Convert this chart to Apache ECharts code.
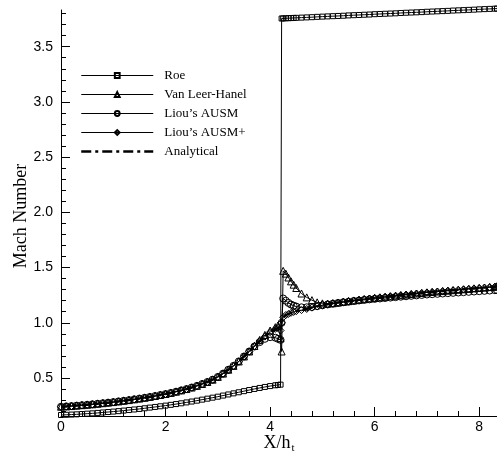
<!DOCTYPE html>
<html><head><meta charset="utf-8">
<script src="https://cdn.jsdelivr.net/npm/echarts@6/dist/echarts.min.js"></script>
<style>html,body{margin:0;padding:0;background:#fff}#c{width:497px;height:455px}</style>
</head><body><div id="c"></div>
<script>
const xs = [0,0.1,0.2,0.3,0.4,0.5,0.6,0.7,0.8,0.9,
  1.0,1.1,1.2,1.3,1.4,1.5,1.6,1.7,1.8,1.9,
  2.0,2.1,2.2,2.3,2.4,2.5,2.6,2.7,2.8,2.9,
  3.0,3.1,3.2,3.3,3.4,3.5,3.6,3.7,3.8,3.9,
  4.0,4.1,
  4.15,4.2,4.22,4.25,4.3,4.35,4.4,4.45,4.5,4.6,4.7,4.8,4.9,
  5.0,5.1,5.2,5.3,5.4,5.5,5.6,5.7,5.8,5.9,
  6.0,6.1,6.2,6.3,6.4,6.5,6.6,6.7,6.8,6.9,
  7.0,7.1,7.2,7.3,7.4,7.5,7.6,7.7,7.8,7.9,
  8.0,8.1,8.2,8.3,
  8.34];

const roe = [0.165,0.167,0.169,0.171,0.174,0.177,0.180,0.184,0.188,0.192,
  0.196,0.200,0.205,0.210,0.215,0.220,0.226,0.232,0.238,0.244,
  0.250,0.257,0.264,0.271,0.279,0.287,0.295,0.304,0.313,0.322,
  0.331,0.341,0.351,0.361,0.371,0.381,0.391,0.401,0.410,0.419,
  0.427,0.434,
  0.437,0.440,3.755,3.756,3.757,3.758,3.759,3.760,3.761,3.763,3.765,3.767,3.770,
  3.772,3.774,3.776,3.778,3.780,3.783,3.785,3.787,3.789,3.791,
  3.794,3.796,3.798,3.800,3.802,3.805,3.807,3.809,3.811,3.813,
  3.816,3.818,3.820,3.822,3.824,3.827,3.829,3.831,3.833,3.835,
  3.838,3.840,3.842,3.844,
  3.845];

const vanLeer = [0.240,0.243,0.246,0.250,0.254,0.258,0.262,0.267,0.272,0.277,
  0.282,0.288,0.294,0.300,0.307,0.314,0.321,0.329,0.337,0.346,
  0.355,0.365,0.376,0.388,0.400,0.414,0.429,0.446,0.464,0.485,
  0.510,0.540,0.575,0.610,0.650,0.695,0.740,0.790,0.845,0.890,
  0.930,0.960,
  0.975,0.860,0.740,1.470,1.445,1.410,1.375,1.345,1.315,1.265,1.230,1.205,1.185,
  1.176,1.174,1.177,1.183,1.190,1.196,1.202,1.208,1.214,1.220,
  1.225,1.230,1.235,1.240,1.245,1.250,1.255,1.260,1.265,1.270,
  1.275,1.279,1.283,1.287,1.291,1.295,1.299,1.303,1.307,1.311,
  1.315,1.319,1.323,1.327,
  1.330];

const ausm = [0.240,0.243,0.246,0.250,0.254,0.258,0.262,0.267,0.272,0.277,
  0.282,0.288,0.294,0.300,0.307,0.314,0.321,0.329,0.337,0.346,
  0.355,0.365,0.376,0.388,0.400,0.414,0.429,0.446,0.464,0.485,
  0.510,0.540,0.575,0.610,0.650,0.695,0.740,0.785,0.825,0.855,
  0.870,0.865,
  0.855,0.845,1.000,1.220,1.200,1.180,1.165,1.155,1.147,1.140,1.140,1.143,1.150,
  1.158,1.166,1.173,1.180,1.186,1.191,1.197,1.202,1.207,1.212,
  1.216,1.220,1.224,1.228,1.232,1.236,1.240,1.244,1.248,1.252,
  1.256,1.259,1.262,1.265,1.268,1.271,1.274,1.277,1.280,1.283,
  1.286,1.289,1.292,1.295,
  1.297];

const ausmPlus = [0.240,0.243,0.246,0.250,0.254,0.258,0.262,0.267,0.272,0.277,
  0.282,0.288,0.294,0.300,0.307,0.314,0.321,0.329,0.337,0.346,
  0.355,0.365,0.376,0.388,0.400,0.414,0.429,0.446,0.464,0.485,
  0.510,0.540,0.575,0.610,0.650,0.695,0.740,0.790,0.835,0.875,
  0.915,0.945,
  0.955,0.930,1.000,1.050,1.070,1.080,1.090,1.098,1.105,1.115,1.125,1.137,1.148,
  1.160,1.168,1.176,1.183,1.190,1.196,1.202,1.208,1.214,1.220,
  1.225,1.230,1.235,1.240,1.245,1.250,1.255,1.260,1.265,1.270,
  1.275,1.279,1.283,1.287,1.291,1.295,1.299,1.303,1.307,1.311,
  1.315,1.319,1.323,1.327,
  1.330];

const analytical = [0.240,0.243,0.246,0.250,0.254,0.258,0.262,0.267,0.272,0.277,
  0.282,0.288,0.294,0.300,0.307,0.314,0.321,0.329,0.337,0.346,
  0.355,0.365,0.376,0.388,0.400,0.414,0.429,0.446,0.464,0.485,
  0.510,0.540,0.575,0.610,0.650,0.695,0.740,0.790,0.835,0.875,
  0.910,0.940,
  0.955,0.960,1.030,1.050,1.070,1.080,1.090,1.098,1.105,1.115,1.125,1.137,1.148,
  1.160,1.168,1.176,1.183,1.190,1.196,1.202,1.208,1.214,1.220,
  1.225,1.230,1.235,1.240,1.245,1.250,1.255,1.260,1.265,1.270,
  1.275,1.279,1.283,1.287,1.291,1.295,1.299,1.303,1.307,1.311,
  1.315,1.319,1.323,1.327,
  1.330];

const seriesNames = ['Roe', 'Van Leer-Hanel', "Liou\u2019s AUSM", "Liou\u2019s AUSM+", 'Analytical'];
const xMajorTicks = [0, 2, 4, 6, 8];
const xMinorTicks = [0.4,0.8,1.2,1.6,2.4,2.8,3.2,3.6,4.4,4.8,5.2,5.6,6.4,6.8,7.2,7.6];
const yMajorTicks = [0.5, 1.0, 1.5, 2.0, 2.5, 3.0, 3.5];
const yMinorTicks = [0.2,0.3,0.4,0.6,0.7,0.8,0.9,1.1,1.2,1.3,1.4,1.6,1.7,1.8,1.9,
  2.1,2.2,2.3,2.4,2.6,2.7,2.8,2.9,3.1,3.2,3.3,3.4,3.6,3.7,3.8];

const X_MIN = 0, X_MAX = 8.34, Y_MIN = 0.156, Y_MAX = 3.832;

function pairs(ys) { return xs.map((x, i) => [x, ys[i]]); }

const chart = echarts.init(document.getElementById('c'), null, {renderer: 'canvas'});
const black = '#000';
const serif = 'Liberation Serif, Times New Roman, serif';
const labelFont = {color: black, fontFamily: 'Liberation Sans, Arial, sans-serif', fontSize: 14};
const hollow = {color: 'rgba(255,255,255,0)', borderColor: black, borderWidth: 1};

function markerSeries(name, ys, symbol, size) {
  return {
    name: name, type: 'line', data: pairs(ys), symbol: symbol, symbolSize: size,
    showSymbol: true, showAllSymbol: true, clip: false,
    lineStyle: {color: black, width: 1}, itemStyle: hollow,
    emphasis: {disabled: true}
  };
}

chart.setOption({
  animation: false,
  backgroundColor: '#fff',
  grid: {left: 61, right: 0, top: 10, bottom: 39, containLabel: false, outerBoundsMode: 'none'},
  legend: {
    orient: 'vertical', left: 80, top: 69, padding: 0,
    itemWidth: 72, itemHeight: 6, itemGap: 6,
    data: seriesNames.map(n => n === 'Analytical'
      ? {name: n, lineStyle: {width: 2.5}}
      : {name: n, lineStyle: {width: 1}}),
    textStyle: {color: black, fontFamily: serif, fontSize: 13, padding: [0, 0, 0, 6]},
    inactiveColor: '#000', selectedMode: false
  },
  xAxis: [{
    type: 'value', min: X_MIN, max: X_MAX, position: 'bottom',
    axisLine: {show: true, onZero: false, lineStyle: {color: black, width: 1}},
    axisTick: {show: true, inside: true, length: 9, customValues: xMajorTicks, lineStyle: {color: black}},
    axisLabel: {show: true, customValues: xMajorTicks, margin: 4, ...labelFont, formatter: v => String(v)},
    splitLine: {show: false},
    name: '{a|X/h}{b|t}', nameLocation: 'middle', nameGap: 18, nameMoveOverlap: false,
    nameTextStyle: {
      rich: {
        a: {fontFamily: serif, fontSize: 18, color: black, lineHeight: 18},
        b: {fontFamily: serif, fontSize: 11, color: black, lineHeight: 11, verticalAlign: 'top', padding: [9, 0, 0, 1]}
      }
    }
  }, {
    type: 'value', min: X_MIN, max: X_MAX, position: 'bottom',
    axisLine: {show: false, onZero: false},
    axisTick: {show: true, inside: true, length: 5, customValues: xMinorTicks, lineStyle: {color: black}},
    axisLabel: {show: false}, splitLine: {show: false}
  }],
  yAxis: [{
    type: 'value', min: Y_MIN, max: Y_MAX, position: 'left',
    axisLine: {show: true, onZero: false, lineStyle: {color: black, width: 1}},
    axisTick: {show: true, inside: true, length: 9, customValues: yMajorTicks, lineStyle: {color: black}},
    axisLabel: {show: true, customValues: yMajorTicks, margin: 8, ...labelFont, formatter: v => v.toFixed(1)},
    splitLine: {show: false},
    name: 'Mach Number', nameLocation: 'middle', nameGap: 31, nameMoveOverlap: false,
    nameTextStyle: {fontFamily: serif, fontSize: 18, color: black, padding: [0, 6, 0, 0]}
  }, {
    type: 'value', min: Y_MIN, max: Y_MAX, position: 'left',
    axisLine: {show: false, onZero: false},
    axisTick: {show: true, inside: true, length: 5, customValues: yMinorTicks, lineStyle: {color: black}},
    axisLabel: {show: false}, splitLine: {show: false}
  }],
  series: [
    {
      name: 'Analytical', type: 'line', data: pairs(analytical), symbol: 'none', clip: false,
      lineStyle: {color: black, width: 2.5, type: [10, 4, 3, 4]},
      itemStyle: {color: 'rgba(0,0,0,0)', borderWidth: 0},
      emphasis: {disabled: true}
    },
    markerSeries('Roe', roe, 'rect', 5),
    markerSeries('Van Leer-Hanel', vanLeer, 'triangle', 7),
    markerSeries("Liou\u2019s AUSM", ausm, 'circle', 7),
    markerSeries("Liou\u2019s AUSM+", ausmPlus, 'diamond', 7)
  ]
});
</script>
</body></html>
